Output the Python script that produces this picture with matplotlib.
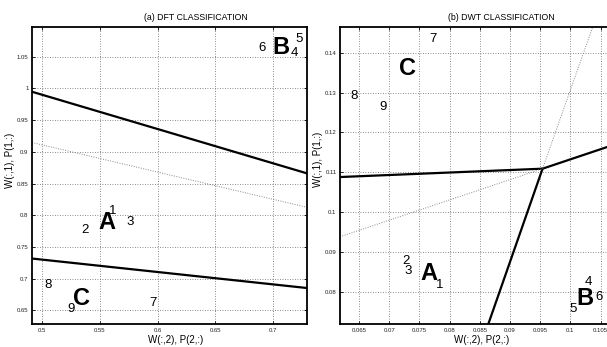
import numpy as np
import matplotlib
matplotlib.use("Agg")
from matplotlib import pyplot as plt
import matplotlib.font_manager as fm

# pick a narrow sans if it exists
names = set(f.name for f in fm.fontManager.ttflist)
if "Liberation Sans Narrow" in names:
    FONT = "Liberation Sans Narrow"
else:
    FONT = "Liberation Sans"
plt.rcParams["font.family"] = [FONT, "DejaVu Sans"]

# ---- (a) DFT data ----
dft_xlim = (0.4914, 0.7293)
dft_ylim = (0.628, 1.0968)
dft_xticks = [0.5, 0.55, 0.6, 0.65, 0.7]
dft_xticklabels = ["0.5", "0.55", "0.6", "0.65", "0.7"]
dft_yticks = [0.65, 0.7, 0.75, 0.8, 0.85, 0.9, 0.95, 1.0, 1.05]
dft_yticklabels = ["0.65", "0.7", "0.75", "0.8", "0.85", "0.9", "0.95", "1", "1.05"]

dft_upper_x = [0.4914, 0.7293]
dft_upper_y = [0.9947, 0.866]
dft_lower_x = [0.4914, 0.7293]
dft_lower_y = [0.7317, 0.6852]
dft_dot_x = [0.4914, 0.7293]
dft_dot_y = [0.9147, 0.8125]

dft_digits = ["1", "2", "3", "4", "5", "6", "7", "8", "9"]
dft_digit_x = [0.561, 0.537, 0.576, 0.7185, 0.7225, 0.690, 0.5957, 0.505, 0.5256]
dft_digit_y = [0.806, 0.777, 0.789, 1.0557, 1.0780, 1.0637, 0.661, 0.6905, 0.6527]
dft_classes = ["A", "B", "C"]
dft_class_x = [0.556, 0.707, 0.534]
dft_class_y = [0.788, 1.0637, 0.669]

# ---- (b) DWT data ----
dwt_xlim = (0.06185, 0.10657)
dwt_ylim = (0.0718, 0.1465)
dwt_xticks = [0.065, 0.07, 0.075, 0.08, 0.085, 0.09, 0.095, 0.1, 0.105]
dwt_xticklabels = ["0.065", "0.07", "0.075", "0.08", "0.085", "0.09", "0.095", "0.1", "0.105"]
dwt_yticks = [0.08, 0.09, 0.1, 0.11, 0.12, 0.13, 0.14]
dwt_yticklabels = ["0.08", "0.09", "0.1", "0.11", "0.12", "0.13", "0.14"]

dwt_thick1_x = [0.06185, 0.0954, 0.1066]
dwt_thick1_y = [0.1088, 0.1109, 0.1166]
dwt_thick2_x = [0.0954, 0.0864]
dwt_thick2_y = [0.1109, 0.0718]
dwt_dot_x = [0.06185, 0.0954, 0.1037]
dwt_dot_y = [0.0938, 0.1109, 0.1465]

dwt_digits = ["1", "2", "3", "4", "5", "6", "7", "8", "9"]
dwt_digit_x = [0.0783, 0.0727, 0.0732, 0.1030, 0.1005, 0.1047, 0.0772, 0.0642, 0.0690]
dwt_digit_y = [0.0816, 0.0877, 0.0853, 0.0824, 0.0757, 0.0786, 0.1436, 0.1292, 0.1265]
dwt_classes = ["A", "B", "C"]
dwt_class_x = [0.0765, 0.1024, 0.0731]
dwt_class_y = [0.0845, 0.0782, 0.1361]

W, H = 607, 347
fig = plt.figure(figsize=(W / 100, H / 100), dpi=100)


def px_axes(x0, x1, ytop, ybot):
    return fig.add_axes([x0 / W, 1 - ybot / H, (x1 - x0) / W, (ybot - ytop) / H])


def style(ax, xlim, ylim, xt, xtl, yt, ytl):
    ax.set_xlim(xlim)
    ax.set_ylim(ylim)
    ax.set_xticks(xt)
    ax.set_xticklabels(xtl)
    ax.set_yticks(yt)
    ax.set_yticklabels(ytl)
    ax.tick_params(direction="in", length=2.5, width=0.6, labelsize=4.3,
                   top=True, right=True, pad=2.5, labelcolor="#222222")
    ax.grid(True, linestyle=(0, (1, 2)), color="#666666", linewidth=0.6)
    for s in ax.spines.values():
        s.set_linewidth(1.3)
        s.set_color("black")
    ax.set_axisbelow(True)


def labels(ax, dig, dx, dy, cls, cx, cy):
    for t, x, y in zip(dig, dx, dy):
        ax.text(x, y, t, fontsize=9.5, ha="center", va="center", clip_on=False)
    for t, x, y in zip(cls, cx, cy):
        ax.text(x, y, t, fontsize=17, fontweight="bold", ha="center", va="center")


# (a)
ax1 = px_axes(32, 307, 27, 324.3)
style(ax1, dft_xlim, dft_ylim, dft_xticks, dft_xticklabels, dft_yticks, dft_yticklabels)
ax1.plot(dft_upper_x, dft_upper_y, color="black", linewidth=1.6)
ax1.plot(dft_lower_x, dft_lower_y, color="black", linewidth=1.6)
ax1.plot(dft_dot_x, dft_dot_y, color="#888888", linewidth=0.7, linestyle=(0, (1, 1.5)))
labels(ax1, dft_digits, dft_digit_x, dft_digit_y, dft_classes, dft_class_x, dft_class_y)
fig.text(196 / W, 1 - 17.5 / H, "(a) DFT CLASSIFICATION", fontsize=6.3, ha="center", va="center")
fig.text(176 / W, 1 - 340 / H, "W(:,2), P(2,:)", fontsize=7, ha="center", va="center")
fig.text(10 / W, 1 - 160 / H, "W(:,1), P(1,:)", fontsize=7, ha="center", va="center",
         rotation=90)

# (b)
ax2 = px_axes(340, 610, 27, 324.3)
style(ax2, dwt_xlim, dwt_ylim, dwt_xticks, dwt_xticklabels, dwt_yticks, dwt_yticklabels)
ax2.plot(dwt_thick1_x, dwt_thick1_y, color="black", linewidth=1.6)
ax2.plot(dwt_thick2_x, dwt_thick2_y, color="black", linewidth=1.6)
ax2.plot(dwt_dot_x, dwt_dot_y, color="#888888", linewidth=0.7, linestyle=(0, (1, 1.5)))
labels(ax2, dwt_digits, dwt_digit_x, dwt_digit_y, dwt_classes, dwt_class_x, dwt_class_y)
fig.text(501.5 / W, 1 - 17 / H, "(b) DWT CLASSIFICATION", fontsize=6.3, ha="center", va="center")
fig.text(481.5 / W, 1 - 340 / H, "W(:,2), P(2,:)", fontsize=7, ha="center", va="center")
fig.text(318 / W, 1 - 159 / H, "W(:,1), P(1,:)", fontsize=7, ha="center", va="center",
         rotation=90)

fig.savefig("out.png", dpi=100)
